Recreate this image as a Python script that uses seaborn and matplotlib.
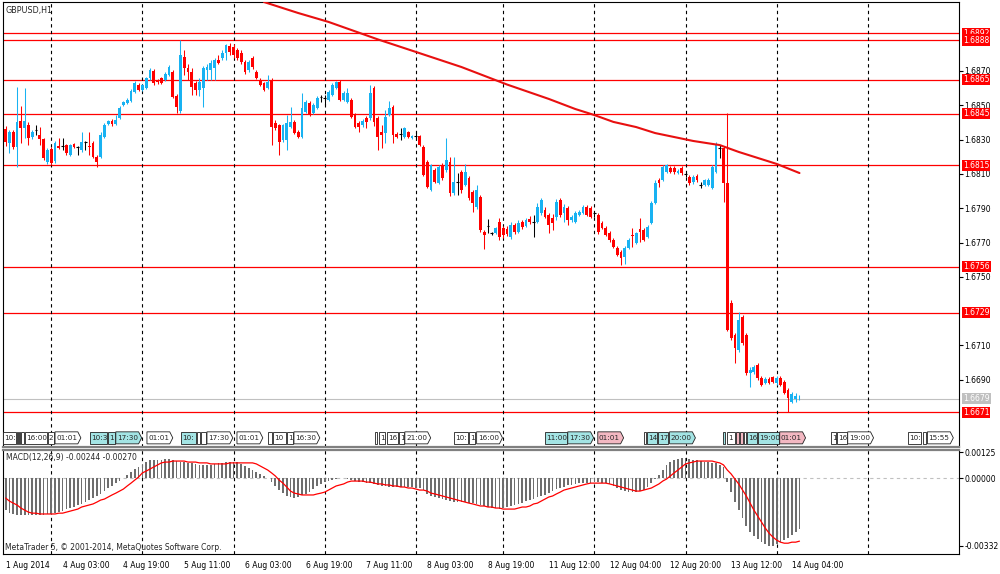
import numpy as np
import pandas as pd
import matplotlib
matplotlib.use("Agg")
import matplotlib.pyplot as plt
import matplotlib.transforms as mtransforms
from matplotlib.patches import Polygon
import seaborn as sns

# GBPUSD H1 candles, bar 0 = 1 Aug 2014 11:00 ... bar 209 = 14 Aug 06:00
opens = [
    1.68362, 1.68280, 1.68344, 1.68257, 1.68408, 1.68368, 1.68385, 1.68315, 1.68356, 1.68327,
    1.68303, 1.68169, 1.68245, 1.68175, 1.68263, 1.68263, 1.68268, 1.68210, 1.68274, 1.68257,
    1.68239, 1.68286, 1.68263, 1.68280, 1.68198, 1.68198, 1.68315, 1.68391, 1.68408, 1.68391,
    1.68426, 1.68502, 1.68513, 1.68525, 1.68578, 1.68618, 1.68589, 1.68601, 1.68659, 1.68700,
    1.68642, 1.68659, 1.68648, 1.68677, 1.68694, 1.68554, 1.68467, 1.68782, 1.68717, 1.68694,
    1.68630, 1.68589, 1.68601, 1.68706, 1.68706, 1.68717, 1.68764, 1.68776, 1.68805, 1.68846,
    1.68840, 1.68822, 1.68805, 1.68752, 1.68706, 1.68776, 1.68694, 1.68648, 1.68630, 1.68601,
    1.68648, 1.68397, 1.68385, 1.68298, 1.68298, 1.68373, 1.68403, 1.68344, 1.68315, 1.68461,
    1.68513, 1.68455, 1.68484, 1.68548, 1.68543, 1.68531, 1.68560, 1.68601, 1.68636, 1.68531,
    1.68519, 1.68531, 1.68443, 1.68397, 1.68385, 1.68426, 1.68426, 1.68601, 1.68426, 1.68344,
    1.68338, 1.68443, 1.68490, 1.68333, 1.68333, 1.68315, 1.68344, 1.68309, 1.68321, 1.68321,
    1.68257, 1.68169, 1.68006, 1.68123, 1.68047, 1.68152, 1.68123, 1.68169, 1.67988, 1.68053,
    1.68111, 1.68035, 1.68076, 1.67994, 1.67907, 1.67965, 1.67761, 1.67796, 1.67755, 1.67755,
    1.67819, 1.67784, 1.67778, 1.67732, 1.67802, 1.67761, 1.67819, 1.67796, 1.67837, 1.67819,
    1.67819, 1.67872, 1.67889, 1.67860, 1.67843, 1.67848, 1.67948, 1.67872, 1.67901, 1.67831,
    1.67819, 1.67860, 1.67872, 1.67907, 1.67901, 1.67872, 1.67860, 1.67813, 1.67784, 1.67755,
    1.67714, 1.67668, 1.67645, 1.67615, 1.67668, 1.67743, 1.67697, 1.67778, 1.67773, 1.67732,
    1.67813, 1.67930, 1.68064, 1.68064, 1.68111, 1.68134, 1.68134, 1.68105, 1.68134, 1.68099,
    1.68082, 1.68053, 1.68088, 1.68035, 1.68035, 1.68035, 1.68018, 1.68111, 1.68251, 1.68251,
    1.68047, 1.67347, 1.67161, 1.67073, 1.67266, 1.67161, 1.66939, 1.66945, 1.66986, 1.66910,
    1.66881, 1.66904, 1.66916, 1.66881, 1.66910, 1.66887, 1.66840, 1.66770, 1.66787, 1.66785,
]
highs = [
    1.68379, 1.68356, 1.68356, 1.68607, 1.68496, 1.68601, 1.68403, 1.68356, 1.68385, 1.68373,
    1.68309, 1.68251, 1.68257, 1.68292, 1.68309, 1.68309, 1.68274, 1.68274, 1.68280, 1.68263,
    1.68344, 1.68292, 1.68344, 1.68292, 1.68210, 1.68344, 1.68397, 1.68414, 1.68420, 1.68443,
    1.68496, 1.68525, 1.68543, 1.68595, 1.68642, 1.68630, 1.68624, 1.68665, 1.68717, 1.68712,
    1.68653, 1.68665, 1.68694, 1.68735, 1.68706, 1.68566, 1.68881, 1.68822, 1.68741, 1.68717,
    1.68642, 1.68659, 1.68729, 1.68741, 1.68764, 1.68776, 1.68793, 1.68822, 1.68857, 1.68863,
    1.68857, 1.68834, 1.68822, 1.68764, 1.68764, 1.68787, 1.68706, 1.68659, 1.68636, 1.68677,
    1.68659, 1.68414, 1.68391, 1.68391, 1.68443, 1.68490, 1.68414, 1.68356, 1.68572, 1.68531,
    1.68525, 1.68513, 1.68554, 1.68560, 1.68560, 1.68589, 1.68630, 1.68642, 1.68648, 1.68583,
    1.68601, 1.68543, 1.68455, 1.68408, 1.68420, 1.68438, 1.68618, 1.68613, 1.68438, 1.68385,
    1.68473, 1.68525, 1.68502, 1.68344, 1.68368, 1.68373, 1.68350, 1.68327, 1.68344, 1.68327,
    1.68268, 1.68181, 1.68158, 1.68134, 1.68152, 1.68163, 1.68309, 1.68198, 1.68198, 1.68105,
    1.68123, 1.68158, 1.68088, 1.68006, 1.68035, 1.67977, 1.67773, 1.67837, 1.67761, 1.67790,
    1.67843, 1.67796, 1.67796, 1.67819, 1.67813, 1.67831, 1.67831, 1.67843, 1.67854, 1.67860,
    1.67930, 1.67959, 1.67907, 1.67872, 1.67866, 1.67953, 1.67959, 1.67924, 1.67913, 1.67860,
    1.67883, 1.67889, 1.67918, 1.67918, 1.67913, 1.67878, 1.67872, 1.67825, 1.67796, 1.67767,
    1.67726, 1.67679, 1.67656, 1.67679, 1.67726, 1.67784, 1.67761, 1.67843, 1.67784, 1.67802,
    1.67942, 1.68064, 1.68076, 1.68152, 1.68158, 1.68146, 1.68146, 1.68128, 1.68146, 1.68111,
    1.68093, 1.68093, 1.68099, 1.68053, 1.68070, 1.68076, 1.68152, 1.68286, 1.68268, 1.68263,
    1.68455, 1.67365, 1.67172, 1.67295, 1.67277, 1.67172, 1.66974, 1.66986, 1.66997, 1.66922,
    1.66916, 1.66916, 1.66922, 1.66922, 1.66922, 1.66898, 1.66852, 1.66828, 1.66822, 1.66811,
]
lows = [
    1.68263, 1.68222, 1.68245, 1.68140, 1.68280, 1.68309, 1.68268, 1.68303, 1.68327, 1.68268,
    1.68181, 1.68158, 1.68152, 1.68163, 1.68245, 1.68239, 1.68210, 1.68204, 1.68251, 1.68210,
    1.68228, 1.68239, 1.68210, 1.68193, 1.68140, 1.68193, 1.68309, 1.68385, 1.68379, 1.68385,
    1.68420, 1.68496, 1.68508, 1.68519, 1.68572, 1.68583, 1.68583, 1.68595, 1.68648, 1.68618,
    1.68624, 1.68624, 1.68642, 1.68671, 1.68543, 1.68455, 1.68455, 1.68677, 1.68648, 1.68560,
    1.68560, 1.68554, 1.68490, 1.68648, 1.68648, 1.68648, 1.68741, 1.68764, 1.68764, 1.68793,
    1.68776, 1.68764, 1.68741, 1.68683, 1.68694, 1.68712, 1.68653, 1.68613, 1.68583, 1.68595,
    1.68268, 1.68356, 1.68210, 1.68286, 1.68239, 1.68368, 1.68333, 1.68309, 1.68309, 1.68455,
    1.68438, 1.68449, 1.68478, 1.68519, 1.68502, 1.68525, 1.68554, 1.68595, 1.68525, 1.68525,
    1.68513, 1.68426, 1.68368, 1.68344, 1.68373, 1.68368, 1.68414, 1.68379, 1.68239, 1.68251,
    1.68280, 1.68438, 1.68280, 1.68309, 1.68298, 1.68309, 1.68309, 1.68303, 1.68298, 1.68263,
    1.68088, 1.68018, 1.68000, 1.68047, 1.68041, 1.68064, 1.68111, 1.67971, 1.67977, 1.67977,
    1.67988, 1.68029, 1.67948, 1.67878, 1.67895, 1.67761, 1.67662, 1.67755, 1.67743, 1.67749,
    1.67714, 1.67726, 1.67738, 1.67720, 1.67749, 1.67755, 1.67778, 1.67790, 1.67808, 1.67732,
    1.67813, 1.67860, 1.67843, 1.67755, 1.67773, 1.67831, 1.67848, 1.67819, 1.67802, 1.67819,
    1.67813, 1.67854, 1.67866, 1.67854, 1.67843, 1.67848, 1.67749, 1.67778, 1.67738, 1.67703,
    1.67668, 1.67621, 1.67569, 1.67574, 1.67662, 1.67673, 1.67691, 1.67703, 1.67708, 1.67726,
    1.67808, 1.67924, 1.68023, 1.68058, 1.68105, 1.68105, 1.68099, 1.68099, 1.68093, 1.68082,
    1.68035, 1.68041, 1.68053, 1.68018, 1.68029, 1.68029, 1.68012, 1.68105, 1.68193, 1.67936,
    1.67184, 1.67131, 1.66997, 1.67062, 1.67102, 1.66927, 1.66857, 1.66933, 1.66898, 1.66863,
    1.66875, 1.66875, 1.66881, 1.66869, 1.66863, 1.66817, 1.66712, 1.66764, 1.66770, 1.66780,
]
closes = [
    1.68286, 1.68344, 1.68257, 1.68403, 1.68368, 1.68408, 1.68309, 1.68344, 1.68356, 1.68303,
    1.68193, 1.68239, 1.68163, 1.68280, 1.68251, 1.68263, 1.68222, 1.68268, 1.68257, 1.68257,
    1.68286, 1.68286, 1.68257, 1.68198, 1.68169, 1.68327, 1.68385, 1.68408, 1.68391, 1.68414,
    1.68484, 1.68519, 1.68531, 1.68583, 1.68630, 1.68589, 1.68618, 1.68659, 1.68706, 1.68630,
    1.68636, 1.68630, 1.68683, 1.68723, 1.68548, 1.68490, 1.68793, 1.68717, 1.68694, 1.68607,
    1.68589, 1.68636, 1.68717, 1.68723, 1.68747, 1.68764, 1.68747, 1.68805, 1.68852, 1.68811,
    1.68793, 1.68776, 1.68752, 1.68694, 1.68752, 1.68723, 1.68659, 1.68618, 1.68589, 1.68636,
    1.68373, 1.68368, 1.68286, 1.68385, 1.68397, 1.68403, 1.68338, 1.68315, 1.68484, 1.68519,
    1.68443, 1.68502, 1.68543, 1.68548, 1.68543, 1.68578, 1.68618, 1.68636, 1.68531, 1.68572,
    1.68572, 1.68432, 1.68373, 1.68373, 1.68408, 1.68403, 1.68572, 1.68403, 1.68315, 1.68327,
    1.68432, 1.68484, 1.68327, 1.68315, 1.68333, 1.68368, 1.68315, 1.68321, 1.68321, 1.68268,
    1.68093, 1.68023, 1.68152, 1.68053, 1.68140, 1.68076, 1.68181, 1.67988, 1.68053, 1.68053,
    1.68006, 1.68111, 1.67959, 1.67930, 1.68006, 1.67773, 1.67743, 1.67796, 1.67755, 1.67784,
    1.67732, 1.67743, 1.67749, 1.67802, 1.67761, 1.67813, 1.67790, 1.67831, 1.67819, 1.67819,
    1.67907, 1.67948, 1.67848, 1.67802, 1.67813, 1.67936, 1.67860, 1.67907, 1.67831, 1.67848,
    1.67872, 1.67878, 1.67907, 1.67860, 1.67848, 1.67872, 1.67761, 1.67784, 1.67743, 1.67714,
    1.67673, 1.67627, 1.67609, 1.67668, 1.67714, 1.67738, 1.67755, 1.67761, 1.67714, 1.67790,
    1.67930, 1.68047, 1.68047, 1.68140, 1.68152, 1.68111, 1.68111, 1.68117, 1.68105, 1.68099,
    1.68047, 1.68082, 1.68064, 1.68035, 1.68064, 1.68064, 1.68140, 1.68268, 1.68251, 1.68047,
    1.67190, 1.67143, 1.67085, 1.67248, 1.67114, 1.66939, 1.66957, 1.66974, 1.66910, 1.66869,
    1.66904, 1.66881, 1.66887, 1.66910, 1.66869, 1.66822, 1.66793, 1.66817, 1.66805, 1.66790,
]

# red trend curve, read at a few bars
trend_bars = [68, 77, 85, 98, 108, 120, 132, 143, 150, 155, 160, 166, 171, 176, 181, 188, 193, 198, 203, 209]
trend_vals = [1.69102, 1.69038, 1.68986, 1.68884, 1.68811, 1.68723, 1.68621, 1.68537, 1.68478, 1.68443,
              1.68403, 1.68373, 1.68338, 1.68315, 1.68292, 1.68268, 1.68228, 1.68193, 1.68158, 1.68105]

levels = [1.6892, 1.6888, 1.6865, 1.6845, 1.6815, 1.6756, 1.6729, 1.6671]
last_price = 1.6679
price_ticks = [1.6690, 1.6710, 1.6750, 1.6770, 1.6790, 1.6810, 1.6830, 1.6850, 1.6870]

# MACD(12,26,9) main (histogram) and signal
macd_main = [
    -0.00157, -0.00172, -0.00176, -0.00181, -0.00181, -0.00181, -0.00181, -0.00181, -0.00181, -0.00181,
    -0.00181, -0.00176, -0.00176, -0.00172, -0.00167, -0.00162, -0.00152, -0.00147, -0.00142, -0.00132,
    -0.00127, -0.00118, -0.00108, -0.00098, -0.00088, -0.00078, -0.00064, -0.00049, -0.00039, -0.00025,
    -0.00015, 0.00002, 0.00015, 0.00029, 0.00044, 0.00054, 0.00064, 0.00078, 0.00088, 0.00088,
    0.00088, 0.00088, 0.00093, 0.00093, 0.00088, 0.00083, 0.00078, 0.00078, 0.00074, 0.00074,
    0.00069, 0.00064, 0.00064, 0.00064, 0.00064, 0.00069, 0.00074, 0.00074, 0.00078, 0.00078,
    0.00078, 0.00078, 0.00069, 0.00059, 0.00049, 0.00039, 0.00029, 0.00020, 0.00010, -0.00002,
    -0.00020, -0.00039, -0.00059, -0.00074, -0.00088, -0.00093, -0.00098, -0.00093, -0.00083, -0.00078,
    -0.00069, -0.00054, -0.00039, -0.00029, -0.00020, -0.00015, -0.00010, -0.00005, -0.00001, 0.00001,
    -0.00005, -0.00010, -0.00015, -0.00020, -0.00020, -0.00025, -0.00025, -0.00029, -0.00034, -0.00039,
    -0.00039, -0.00044, -0.00044, -0.00044, -0.00044, -0.00044, -0.00044, -0.00044, -0.00049, -0.00049,
    -0.00059, -0.00078, -0.00088, -0.00093, -0.00098, -0.00103, -0.00108, -0.00113, -0.00118, -0.00118,
    -0.00118, -0.00118, -0.00123, -0.00123, -0.00127, -0.00132, -0.00137, -0.00142, -0.00147, -0.00147,
    -0.00152, -0.00147, -0.00142, -0.00137, -0.00132, -0.00127, -0.00123, -0.00113, -0.00108, -0.00103,
    -0.00093, -0.00088, -0.00083, -0.00074, -0.00064, -0.00054, -0.00049, -0.00044, -0.00034, -0.00034,
    -0.00029, -0.00025, -0.00025, -0.00025, -0.00025, -0.00020, -0.00020, -0.00025, -0.00025, -0.00029,
    -0.00039, -0.00049, -0.00059, -0.00064, -0.00069, -0.00069, -0.00069, -0.00064, -0.00059, -0.00044,
    -0.00025, -0.00005, 0.00015, 0.00039, 0.00064, 0.00078, 0.00088, 0.00093, 0.00098, 0.00098,
    0.00093, 0.00088, 0.00088, 0.00083, 0.00078, 0.00078, 0.00074, 0.00074, 0.00064, 0.00054,
    -0.00020, -0.00069, -0.00118, -0.00157, -0.00196, -0.00235, -0.00265, -0.00284, -0.00299, -0.00314,
    -0.00323, -0.00332, -0.00332, -0.00323, -0.00314, -0.00304, -0.00294, -0.00280, -0.00262, -0.00250,
]
macd_signal = [
    -0.00098, -0.00113, -0.00123, -0.00132, -0.00147, -0.00157, -0.00167, -0.00172, -0.00172, -0.00176,
    -0.00176, -0.00176, -0.00176, -0.00176, -0.00172, -0.00172, -0.00167, -0.00162, -0.00157, -0.00152,
    -0.00142, -0.00137, -0.00132, -0.00127, -0.00118, -0.00108, -0.00103, -0.00093, -0.00083, -0.00074,
    -0.00064, -0.00054, -0.00039, -0.00025, -0.00010, 0.00005, 0.00025, 0.00034, 0.00044, 0.00054,
    0.00064, 0.00074, 0.00078, 0.00078, 0.00083, 0.00083, 0.00083, 0.00083, 0.00078, 0.00078,
    0.00078, 0.00074, 0.00074, 0.00074, 0.00069, 0.00069, 0.00069, 0.00069, 0.00069, 0.00074,
    0.00074, 0.00074, 0.00074, 0.00074, 0.00074, 0.00074, 0.00069, 0.00059, 0.00049, 0.00039,
    0.00025, 0.00010, -0.00010, -0.00025, -0.00044, -0.00064, -0.00074, -0.00078, -0.00083, -0.00083,
    -0.00083, -0.00083, -0.00078, -0.00074, -0.00069, -0.00059, -0.00049, -0.00039, -0.00034, -0.00029,
    -0.00020, -0.00015, -0.00015, -0.00015, -0.00015, -0.00020, -0.00020, -0.00025, -0.00029, -0.00029,
    -0.00034, -0.00034, -0.00039, -0.00039, -0.00044, -0.00044, -0.00049, -0.00049, -0.00054, -0.00059,
    -0.00059, -0.00064, -0.00074, -0.00078, -0.00083, -0.00088, -0.00093, -0.00098, -0.00103, -0.00108,
    -0.00113, -0.00118, -0.00123, -0.00127, -0.00132, -0.00137, -0.00137, -0.00142, -0.00142, -0.00147,
    -0.00147, -0.00152, -0.00152, -0.00152, -0.00152, -0.00147, -0.00142, -0.00142, -0.00137, -0.00127,
    -0.00123, -0.00113, -0.00103, -0.00093, -0.00088, -0.00078, -0.00069, -0.00059, -0.00054, -0.00049,
    -0.00044, -0.00039, -0.00034, -0.00029, -0.00025, -0.00025, -0.00025, -0.00025, -0.00025, -0.00029,
    -0.00034, -0.00039, -0.00044, -0.00049, -0.00054, -0.00059, -0.00064, -0.00064, -0.00059, -0.00054,
    -0.00049, -0.00039, -0.00029, -0.00015, -0.00005, 0.00010, 0.00025, 0.00039, 0.00054, 0.00069,
    0.00074, 0.00078, 0.00083, 0.00083, 0.00083, 0.00083, 0.00083, 0.00078, 0.00074, 0.00064,
    0.00039, 0.00020, -0.00005, -0.00029, -0.00059, -0.00088, -0.00123, -0.00157, -0.00186, -0.00216,
    -0.00245, -0.00270, -0.00289, -0.00304, -0.00314, -0.00319, -0.00319, -0.00314, -0.00314, -0.00309,
]

# day separators (bar index of 00:00) and time scale labels
day_starts = [12, 36, 60, 84, 108, 131, 155, 179, 203, 227]
time_ticks = [0, 15, 31, 47, 63, 79, 95, 111, 127, 143, 159, 175, 191, 207]
time_labels = ["1 Aug 2014", "4 Aug 03:00", "4 Aug 19:00", "5 Aug 11:00", "6 Aug 03:00",
               "6 Aug 19:00", "7 Aug 11:00", "8 Aug 03:00", "8 Aug 19:00", "11 Aug 12:00",
               "12 Aug 04:00", "12 Aug 20:00", "13 Aug 12:00", "14 Aug 04:00"]

# calendar events (bar time, shown text, importance colour)
event_bars = [-0.7, 3.0, 3.5, 4.0, 5.1, 11.1, 13.0, 22.2, 26.9, 29.0, 37.2, 46.1, 50.4, 51.4, 53.0,
              60.9, 69.0, 70.3, 74.0, 75.9, 97.2, 98.2, 100.3, 103.5, 105.1, 118.0, 121.9, 124.0,
              141.9, 148.0, 155.9, 168.0, 168.8, 171.7, 174.8, 188.8, 189.8, 192.2, 193.3, 194.3,
              195.1, 198.0, 203.8, 217.4, 219.0, 221.7, 237.5, 241.4, 242.7]
event_texts = ["10:", "", "", "", "16:00", "2", "01:01", "10:3", "1", "17:30", "01:01", "10:", "", "", "17:30",
               "01:01", "", "10", "1", "16:30", "", "1", "16", "1", "21:00", "10:", "1", "16:00",
               "11:00", "17:30", "01:01", "", "14", "17", "20:00", "", "1", "", "", "",
               "16", "19:00", "01:01", "1", "16", "19:00", "10:", "", "15:55"]
event_kinds = ["w", "w", "w", "w", "w", "w", "w", "c", "c", "c", "w", "c", "w", "w", "w",
               "w", "w", "w", "w", "w", "w", "w", "w", "w", "w", "w", "w", "w",
               "c", "c", "p", "w", "c", "c", "c", "c", "w", "p", "p", "w",
               "c", "c", "p", "w", "w", "w", "w", "w", "w"]

bull, bear = "#18B2F2", "#FF0000"

df = pd.DataFrame({"open": opens, "high": highs, "low": lows, "close": closes})
df["bar"] = np.arange(len(df))
df["color"] = np.where(df.close > df.open, bull, np.where(df.close < df.open, bear, "black"))

sns.set_style("white")
plt.rcParams["font.family"] = ["DejaVu Sans"]
plt.rcParams["font.size"] = 5.5

fig = plt.figure(figsize=(10, 5.74), dpi=100)
ax = fig.add_axes([0.003, 0.2213, 0.956, 0.7752])
ax2 = fig.add_axes([0.003, 0.0348, 0.956, 0.1812])

xmin, xmax = -0.7, 251.0

# price pane
for lv in levels:
    ax.axhline(lv, color="red", lw=0.9, zorder=1)
ax.axhline(last_price, color="#C0C0C0", lw=0.8, zorder=1)

body = df[df.close != df.open]
doji = df[df.close == df.open]
ax.vlines(df.bar, df.low, df.high, colors=df.color, lw=0.75, zorder=3)
ax.bar(body.bar, (body.close - body.open).abs(), bottom=body[["open", "close"]].min(axis=1),
       width=0.74, color=body.color, linewidth=0, zorder=3)
ax.hlines(doji.open, doji.bar - 0.37, doji.bar + 0.37, colors="black", lw=0.8, zorder=3)

sns.lineplot(x=trend_bars, y=trend_vals, ax=ax, color="#E81010", lw=1.5, zorder=4)

for d in day_starts:
    ax.axvline(d, color="black", ls=(0, (3, 3)), lw=0.8, zorder=2)
    ax2.axvline(d, color="black", ls=(0, (3, 3)), lw=0.8, zorder=2)

ax.set_xlim(xmin, xmax)
ax.set_ylim(1.66508, 1.69102)
ax.set_xticks([])
ax.yaxis.tick_right()
ax.set_yticks(price_ticks)
ax.set_yticklabels([f"{v:.4f}" for v in price_ticks])
ax.tick_params(axis="y", direction="out", length=3, width=0.8, pad=1, labelsize=5.5, colors="black")
for s in ax.spines.values():
    s.set_color("black")
    s.set_linewidth(0.8)
ax.spines["bottom"].set_color("#808080")
ax.spines["bottom"].set_linewidth(1.6)

ytrans = mtransforms.blended_transform_factory(ax.transAxes, ax.transData)
for lv in levels:
    ax.text(1.004, lv, f"{lv:.4f}", transform=ytrans, color="white", fontsize=5.5, va="center",
            ha="left", clip_on=False, zorder=6,
            bbox=dict(boxstyle="square,pad=0.15", fc="red", ec="none"))
ax.text(1.004, last_price, f"{last_price:.4f}", transform=ytrans, color="white", fontsize=5.5,
        va="center", ha="left", clip_on=False, zorder=6,
        bbox=dict(boxstyle="square,pad=0.15", fc="#C0C0C0", ec="none"))

ax.text(0.003, 0.982, "GBPUSD,H1", transform=ax.transAxes, fontsize=5.8, va="center", ha="left")

# event strip
fills = {"w": "#FFFFFF", "c": "#A3E4E4", "p": "#F3B8C2"}
etrans = mtransforms.blended_transform_factory(ax.transData, ax.transAxes)
y0, y1 = 0.007, 0.034
full_w, tip = 6.8, 0.8
for i, (b, txt, kind) in enumerate(zip(event_bars, event_texts, event_kinds)):
    nxt = event_bars[i + 1] if i + 1 < len(event_bars) else 1e9
    if nxt - b >= full_w:
        r = b + full_w
        pts = [(b, y0), (r - tip, y0), (r, (y0 + y1) / 2), (r - tip, y1), (b, y1)]
    else:
        r = nxt - 0.3
        pts = [(b, y0), (r, y0), (r, y1), (b, y1)]
    ax.add_patch(Polygon(pts, closed=True, transform=etrans, fc=fills[kind], ec="#202020",
                         lw=0.6, zorder=6))
    ax.text(b + 0.3, (y0 + y1) / 2, txt, transform=etrans, fontsize=5.2, va="center",
            ha="left", zorder=7)

# MACD pane
ax2.axhline(0, color="#C0C0C0", ls=(0, (3, 3)), lw=0.8, zorder=1)
ax2.bar(df.bar, macd_main, width=0.45, color="#6E6E6E", linewidth=0, zorder=3)
sns.lineplot(x=df.bar, y=macd_signal, ax=ax2, color="red", lw=0.9, zorder=4)
ax2.set_xlim(xmin, xmax)
ax2.set_ylim(-0.00372, 0.00137)
ax2.set_ylabel("")
ax2.set_xlabel("")
ax2.yaxis.tick_right()
ax2.set_yticks([0.00125, 0.0, -0.00332])
ax2.set_yticklabels(["0.00125", "0.00000", "-0.00332"])
ax2.tick_params(axis="y", direction="out", length=3, width=0.8, pad=1, labelsize=5.5, colors="black")
ax2.set_xticks(time_ticks)
ax2.set_xticklabels(time_labels)
ax2.tick_params(axis="x", direction="out", length=3, width=0.8, pad=2, labelsize=5.5, colors="black")
for lbl in ax2.get_xticklabels():
    lbl.set_horizontalalignment("left")
for s in ax2.spines.values():
    s.set_color("black")
    s.set_linewidth(0.8)
ax2.spines["top"].set_color("#808080")
ax2.spines["top"].set_linewidth(1.6)

ax2.text(0.003, 0.926, "MACD(12,26,9) -0.00244 -0.00270", transform=ax2.transAxes,
         fontsize=5.5, va="center", ha="left")
ax2.text(0.002, 0.067, "MetaTrader 5, © 2001-2014, MetaQuotes Software Corp.",
         transform=ax2.transAxes, fontsize=5.5, va="center", ha="left")

fig.savefig("out.png", dpi=100, facecolor="white")
